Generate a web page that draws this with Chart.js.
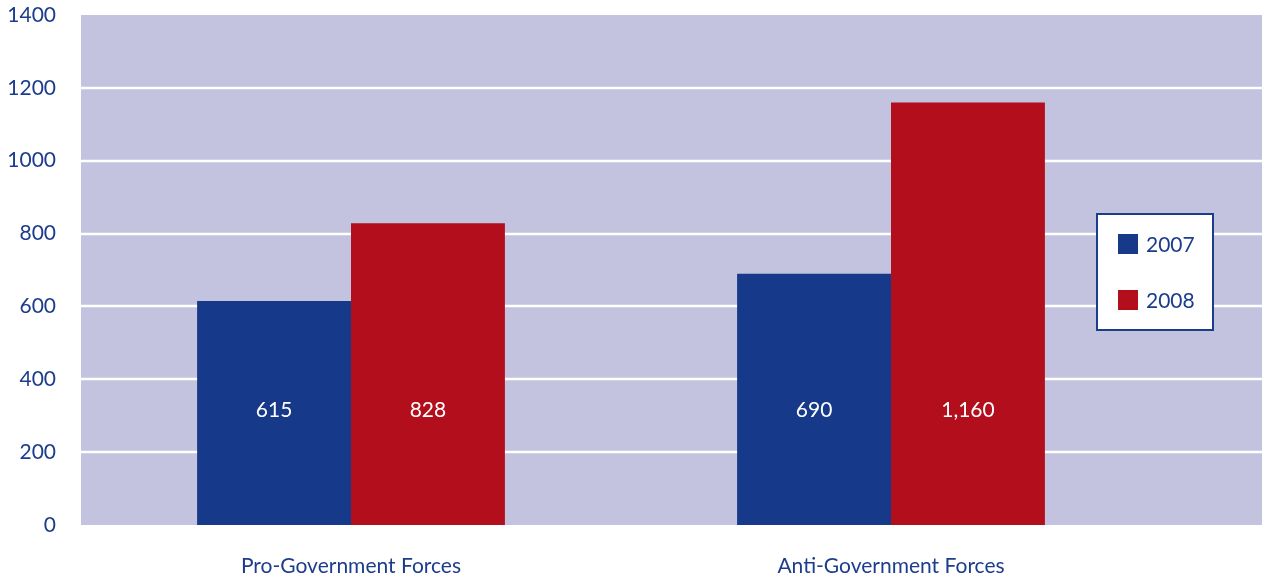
<!DOCTYPE html>
<html>
<head>
<meta charset="utf-8">
<script src="https://cdn.jsdelivr.net/npm/chart.js@4.4.1/dist/chart.umd.min.js"></script>
<style>
  body { margin: 0; background: #fff; }
  #wrap { width: 1262px; height: 577px; }
</style>
</head>
<body>
<div id="wrap"><canvas id="graph1" width="1262" height="577"></canvas></div>
<script>
// data
var categories = ['Pro-Government Forces', 'Anti-Government Forces'];
var years = ['2007', '2008'];
var values2007 = [615, 690];
var values2008 = [828, 1160];
var yTicks = [0, 200, 400, 600, 800, 1000, 1200, 1400];

var textBlue = '#1c3c8c';
var barBlue = '#163989';
var barRed = '#b20e1b';
var plotBg = '#c3c3df';
var fontName = 'Lato, "Liberation Sans", sans-serif';

// lavender plot area + white grid lines, stretched to the right edge (legend sits there)
var plotBackground = {
  id: 'plotBackground',
  beforeDatasetsDraw: function (chart) {
    var ctx = chart.ctx, a = chart.chartArea, y = chart.scales.y;
    var right = chart.width;
    ctx.save();
    ctx.fillStyle = plotBg;
    ctx.fillRect(a.left, a.top, right - a.left, a.bottom - a.top);
    ctx.strokeStyle = '#ffffff';
    ctx.lineWidth = 2.5;
    yTicks.forEach(function (v) {
      if (v === 0 || v === 1400) return;
      var py = Math.round(y.getPixelForValue(v));
      ctx.beginPath();
      ctx.moveTo(a.left, py);
      ctx.lineTo(right, py);
      ctx.stroke();
    });
    ctx.restore();
  }
};

// white numbers inside the bars, all on one row
var barLabels = {
  id: 'barLabels',
  afterDatasetsDraw: function (chart) {
    var ctx = chart.ctx, y = chart.scales.y;
    var rowY = y.getPixelForValue(315);
    ctx.save();
    ctx.fillStyle = '#ffffff';
    ctx.font = '21px ' + fontName;
    ctx.textAlign = 'center';
    ctx.textBaseline = 'middle';
    chart.data.datasets.forEach(function (ds, i) {
      chart.getDatasetMeta(i).data.forEach(function (bar, j) {
        ctx.fillText(ds.data[j].toLocaleString('en-US'), bar.x, rowY);
      });
    });
    ctx.restore();
  }
};

// boxed legend on the right
var boxLegend = {
  id: 'boxLegend',
  afterDraw: function (chart) {
    var ctx = chart.ctx, a = chart.chartArea;
    var bx = a.right - 64, by = 214, bw = 116, bh = 116;
    ctx.save();
    ctx.fillStyle = '#ffffff';
    ctx.fillRect(bx, by, bw, bh);
    ctx.strokeStyle = textBlue;
    ctx.lineWidth = 2;
    ctx.strokeRect(bx, by, bw, bh);
    ctx.font = '21px ' + fontName;
    ctx.textBaseline = 'middle';
    chart.data.datasets.forEach(function (ds, i) {
      var cy = by + 30 + i * 56;
      ctx.fillStyle = ds.backgroundColor;
      ctx.fillRect(bx + 21, cy - 10, 20, 20);
      ctx.fillStyle = textBlue;
      ctx.fillText(ds.label, bx + 49, cy + 1);
    });
    ctx.restore();
  }
};

var ctx = document.getElementById('graph1').getContext('2d');
var chart = new Chart(ctx, {
  type: 'bar',
  data: {
    labels: categories,
    datasets: [
      { label: years[0], data: values2007, backgroundColor: barBlue },
      { label: years[1], data: values2008, backgroundColor: barRed }
    ]
  },
  options: {
    responsive: false,
    animation: false,
    layout: { padding: { top: 15, right: 101, left: 0, bottom: 0 } },
    datasets: { bar: { barPercentage: 1, categoryPercentage: 0.57 } },
    plugins: { legend: { display: false }, tooltip: { enabled: false } },
    scales: {
      x: {
        grid: { display: false, drawTicks: false },
        border: { display: false },
        ticks: { color: textBlue, font: { family: fontName, size: 21 }, padding: 29 },
        afterFit: function (s) { s.height = 52; }
      },
      y: {
        min: 0, max: 1400,
        afterBuildTicks: function (s) { s.ticks = yTicks.map(function (v) { return { value: v }; }); },
        grid: { display: false, drawTicks: false },
        border: { display: false },
        ticks: {
          color: textBlue, font: { family: fontName, size: 21, lineHeight: 1 }, padding: 25,
          callback: function (v) { return String(v); }
        },
        afterFit: function (s) { s.width = 81; s.paddingTop = 0; s.paddingBottom = 0; }
      }
    }
  },
  plugins: [plotBackground, barLabels, boxLegend]
});
</script>
</body>
</html>
